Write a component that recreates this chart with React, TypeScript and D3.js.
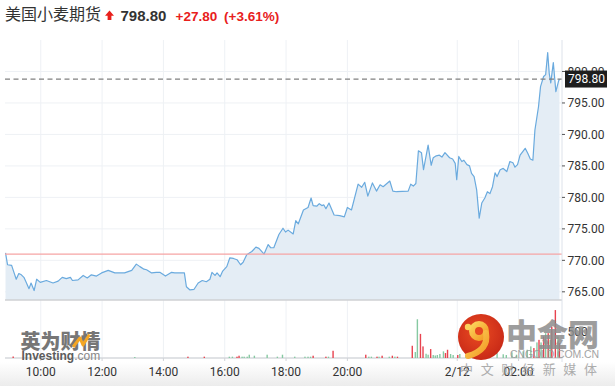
import React from 'react';
import * as d3 from 'd3';

const W = 615;
const H = 386;

// ---------- DATA ----------
const titleText = '美国小麦期货';
const lastPrice = 798.8;
const changeText = '+27.80';
const changePctText = '(+3.61%)';
const prevClose = 771.0;

const pricePoints: [string, number][] = [
  ['08:51', 771.2], ['08:55', 769.3], ['09:03', 769.2], ['09:07', 768.2], ['09:12', 767.0], ['09:17', 767.9],
  ['09:22', 767.7], ['09:27', 767.3], ['09:31', 766.6], ['09:37', 765.5], ['09:41', 766.4], ['09:45', 765.6],
  ['09:47', 765.2], ['09:52', 767.0], ['09:59', 766.5], ['10:11', 766.8], ['10:24', 766.4], ['10:34', 766.7],
  ['10:42', 767.3], ['10:50', 767.1], ['10:58', 767.3], ['11:02', 766.8], ['11:13', 766.9], ['11:23', 767.6],
  ['11:31', 767.2], ['11:39', 767.7], ['11:49', 767.5], ['11:59', 768.0], ['12:12', 768.4], ['12:25', 768.0],
  ['12:44', 768.0], ['12:58', 768.4], ['13:07', 769.4], ['13:14', 769.0], ['13:22', 768.6], ['13:27', 768.5],
  ['13:37', 768.0], ['13:46', 768.1], ['13:53', 768.1], ['14:04', 767.5], ['14:16', 768.1], ['14:22', 768.0],
  ['14:41', 768.0], ['14:45', 765.8], ['14:52', 765.3], ['15:00', 765.4], ['15:08', 766.4], ['15:16', 766.8],
  ['15:24', 766.6], ['15:31', 767.0], ['15:35', 768.1], ['15:41', 767.6], ['15:45', 768.0], ['15:51', 767.4],
  ['15:56', 768.3], ['16:04', 769.0], ['16:10', 770.4], ['16:17', 770.3], ['16:24', 770.1], ['16:31', 769.3],
  ['16:36', 769.7], ['16:43', 770.9], ['16:53', 771.4], ['17:01', 772.1], ['17:07', 771.9], ['17:17', 771.0],
  ['17:25', 772.5], ['17:30', 772.0], ['17:36', 772.0], ['17:46', 774.1], ['17:54', 775.1], ['17:59', 774.5],
  ['18:04', 774.8], ['18:14', 774.2], ['18:19', 776.3], ['18:24', 775.8], ['18:34', 778.0], ['18:43', 778.4],
  ['18:49', 779.9], ['18:53', 778.7], ['19:00', 778.6], ['19:05', 779.0], ['19:10', 778.7], ['19:14', 778.8],
  ['19:18', 778.2], ['19:24', 779.1], ['19:34', 777.2], ['19:45', 777.1], ['19:54', 776.9], ['20:00', 778.4],
  ['20:08', 778.0], ['20:21', 782.1], ['20:28', 781.6], ['20:34', 782.4], ['20:40', 780.2], ['20:49', 782.3],
  ['20:57', 781.0], ['21:04', 782.0], ['21:10', 781.7], ['21:23', 782.6], ['21:29', 781.0], ['21:36', 780.9],
  ['22:24', 781.0], ['22:29', 782.1], ['22:34', 781.8], ['22:39', 782.2], ['22:44', 787.4], ['22:50', 787.1],
  ['22:54', 784.4], ['23:03', 788.3], ['23:09', 785.1], ['23:13', 786.3], ['23:19', 786.6], ['23:25', 786.7],
  ['23:30', 786.4], ['23:36', 787.1], ['23:45', 786.3], ['23:51', 786.1], ['23:56', 785.4], ['23:59', 782.8],
  ['00:03', 786.5], ['00:09', 785.7], ['00:13', 785.9], ['00:19', 785.2], ['00:24', 785.0], ['00:28', 783.8],
  ['00:33', 783.3], ['00:38', 781.2], ['00:43', 776.7], ['00:48', 779.1], ['00:54', 779.9], ['00:59', 780.9],
  ['01:04', 780.6], ['01:09', 781.7], ['01:14', 783.9], ['01:18', 783.3], ['01:24', 784.4], ['01:30', 784.6],
  ['01:37', 784.1], ['01:43', 785.7], ['01:49', 785.5], ['01:53', 784.8], ['01:58', 785.2], ['02:03', 786.7],
  ['02:13', 787.8], ['02:18', 787.0], ['02:23', 786.1], ['02:28', 785.9], ['02:32', 790.7], ['02:39', 794.4],
  ['02:43', 797.6], ['02:49', 799.2], ['02:53', 799.5], ['02:57', 803.0], ['03:00', 799.7], ['03:03', 798.2],
  ['03:08', 801.4], ['03:13', 796.8], ['03:18', 798.4], ['03:20', 798.8],
];

// [time, volume, 'r' | 'g']
const volumePoints: [string, number, string][] = [
  ['09:06', 28, 'r'], ['13:04', 19, 'g'], ['14:48', 25, 'r'], ['15:20', 25, 'r'], ['16:09', 25, 'g'],
  ['16:15', 25, 'g'], ['16:24', 25, 'r'], ['16:28', 43, 'r'], ['16:34', 25, 'g'], ['16:38', 25, 'g'],
  ['16:44', 25, 'g'], ['16:48', 62, 'g'], ['16:58', 43, 'g'], ['17:23', 62, 'g'], ['17:43', 25, 'g'],
  ['17:53', 62, 'g'], ['18:17', 25, 'g'], ['18:37', 25, 'g'], ['18:43', 25, 'g'], ['18:48', 25, 'g'],
  ['18:53', 43, 'r'], ['19:18', 25, 'r'], ['19:23', 25, 'g'], ['19:32', 136, 'r'], ['20:36', 62, 'r'],
  ['20:42', 25, 'g'], ['20:47', 25, 'g'], ['20:58', 25, 'r'], ['21:02', 25, 'g'], ['21:08', 43, 'r'],
  ['21:22', 25, 'g'], ['21:28', 43, 'r'], ['21:33', 25, 'g'], ['21:38', 25, 'r'], ['22:32', 230, 'r'],
  ['22:38', 112, 'g'], ['22:42', 728, 'g'], ['22:48', 453, 'r'], ['22:53', 218, 'r'], ['22:59', 80, 'g'],
  ['23:03', 62, 'g'], ['23:08', 168, 'r'], ['23:13', 56, 'g'], ['23:17', 47, 'g'], ['23:21', 56, 'g'],
  ['23:26', 75, 'g'], ['23:33', 125, 'g'], ['23:37', 93, 'r'], ['23:41', 155, 'r'], ['23:47', 75, 'g'],
  ['23:52', 56, 'g'], ['00:01', 56, 'r'], ['00:05', 75, 'g'], ['00:17', 60, 'g'], ['00:29', 80, 'r'],
  ['00:41', 190, 'r'], ['00:52', 110, 'g'], ['01:04', 70, 'g'], ['01:18', 90, 'g'], ['01:30', 70, 'g'],
  ['01:36', 56, 'g'], ['01:47', 106, 'g'], ['01:56', 62, 'g'], ['02:09', 125, 'g'], ['02:17', 155, 'g'],
  ['02:24', 218, 'g'], ['02:30', 187, 'r'], ['02:36', 293, 'g'], ['02:40', 341, 'r'], ['02:44', 293, 'g'],
  ['02:49', 405, 'r'], ['02:53', 467, 'g'], ['02:58', 467, 'r'], ['03:02', 341, 'g'], ['03:05', 592, 'r'],
  ['03:12', 901, 'r'], ['03:17', 405, 'g'], ['03:20', 280, 'r'],
];

const xTickTimes = ['10:00', '12:00', '14:00', '16:00', '18:00', '20:00', '00:00', '02:00'];
const xTickLabels = ['10:00', '12:00', '14:00', '16:00', '18:00', '20:00', '2/12', '02:00'];
const yTicks = [765, 770, 775, 780, 785, 790, 795, 800];
const volTicks = [500];
const volTickLabels = ['500'];

const domainTimes = ['08:50', '03:25'];
const sessionBreak = ['21:45', '22:10'];
const priceDomain = [763.7, 805.0];
const volDomain = [0, 1090];

// ---------- TIME HELPERS ----------
function hm(s: string) {
  const [h, m] = s.split(':').map(Number);
  return h * 60 + m;
}
function withDays(list: string[]): number[] {
  let day = 0;
  let prev = -Infinity;
  return list.map((s) => {
    let a = hm(s) + day * 1440;
    if (a < prev) {
      day += 1;
      a += 1440;
    }
    prev = a;
    return a;
  });
}
const bs = hm(sessionBreak[0]);
const be = hm(sessionBreak[1]);
function compress(a: number) {
  if (a <= bs) return a;
  if (a < be) return bs;
  return a - (be - bs);
}

// ---------- LAYOUT ----------
const L = 5;
const R = 562;
const PT = 40;
const PB = 300;
const VT = 300;
const VB = 358;

export default function App() {
  const dom = withDays(domainTimes).map(compress);
  const x = d3.scaleLinear().domain(dom).range([L, R]);
  const y = d3.scaleLinear().domain(priceDomain).range([PB, PT]);
  const yv = d3.scaleLinear().domain(volDomain).range([VB, VT]);

  const pT = withDays(pricePoints.map((d) => d[0])).map(compress);
  const pts = pricePoints.map((d, i) => ({ x: x(pT[i]), y: y(d[1]) }));
  const line = d3.line<{ x: number; y: number }>().x((d) => d.x).y((d) => d.y)(pts) || '';
  const area = d3.area<{ x: number; y: number }>().x((d) => d.x).y0(PB).y1((d) => d.y)(pts) || '';

  const vT = withDays(volumePoints.map((d) => d[0])).map(compress);
  const tT = withDays(xTickTimes).map(compress);

  const axisFont = 'Roboto, "Liberation Sans", Arial, sans-serif';
  const cjk = '"Noto Sans CJK SC", "Noto Sans", sans-serif';

  return (
    <svg width={W} height={H} style={{ position: 'absolute', left: 0, top: 0, background: '#fff' }}>
      <defs>
        <linearGradient id="bottomShade" x1="0" y1="0" x2="0" y2="1">
          <stop offset="0" stopColor="#ffffff" />
          <stop offset="1" stopColor="#ececec" />
        </linearGradient>
        <radialGradient id="redBall" cx="0.45" cy="0.4" r="0.6">
          <stop offset="0" stopColor="#ea4b22" />
          <stop offset="1" stopColor="#c92a17" />
        </radialGradient>
        <linearGradient id="swirl" x1="0" y1="0" x2="1" y2="1">
          <stop offset="0" stopColor="#fbd25a" />
          <stop offset="1" stopColor="#f39a25" />
        </linearGradient>
      </defs>

      <rect x={0} y={362} width={W} height={H - 362} fill="url(#bottomShade)" />

      {/* Header */}
      <text x={5} y={20} fontFamily={cjk} fontSize={16} fill="#333">{titleText}</text>
      <path d="M109.5,10.5 L105,15.8 L107.6,15.8 L107.6,20 L111.4,20 L111.4,15.8 L114,15.8 Z" fill="#e8201c" />
      <text x={120.5} y={20.5} fontFamily='"Liberation Sans", Arial, sans-serif' fontSize={15} fontWeight="bold" fill="#333">
        {lastPrice.toFixed(2)}
      </text>
      <text x={175.5} y={20.5} fontFamily='"Liberation Sans", Arial, sans-serif' fontSize={13.5} fontWeight="bold" fill="#e8201c">
        {changeText}
      </text>
      <text x={224} y={20.5} fontFamily='"Liberation Sans", Arial, sans-serif' fontSize={13.5} fontWeight="bold" fill="#e8201c">
        {changePctText}
      </text>

      {/* grid */}
      {yTicks.map((t) => (
        <line key={'hg' + t} x1={L} x2={R} y1={y(t)} y2={y(t)} stroke="#eef1f5" strokeWidth={1} />
      ))}
      {tT.map((t, i) => (
        <line key={'vg' + i} x1={x(t)} x2={x(t)} y1={PT} y2={VB} stroke="#eef1f5" strokeWidth={1} />
      ))}

      {/* area + line */}
      <path d={area} fill="#e4edf5" />
      <path d={line} fill="none" stroke="#6aaade" strokeWidth={1.2} strokeLinejoin="round" />

      {/* prev close line */}
      <line x1={L} x2={R} y1={y(prevClose)} y2={y(prevClose)} stroke="#f6a4a4" strokeWidth={1.2} />
      {/* last price dashed */}
      <line x1={L} x2={R} y1={y(lastPrice)} y2={y(lastPrice)} stroke="#808080" strokeWidth={1.3} strokeDasharray="5,3.5" />

      {/* panel borders */}
      <line x1={L} x2={R} y1={PB} y2={PB} stroke="#cfd0d3" strokeWidth={1.5} />
      <line x1={L} x2={R} y1={VB} y2={VB} stroke="#d6d8dc" strokeWidth={1.5} />
      <line x1={R} x2={R} y1={PT} y2={362} stroke="#dde2ea" strokeWidth={1} />

      {/* volume bars */}
      {volumePoints.map((d, i) => (
        <rect
          key={'v' + i}
          x={x(vT[i]) - 0.7}
          y={yv(d[1])}
          width={1.4}
          height={VB - yv(d[1])}
          fill={d[2] === 'r' ? '#e8434f' : '#86c9a2'}
        />
      ))}

      {/* y axis ticks + labels */}
      {yTicks.map((t) => (
        <g key={'yl' + t}>
          <line x1={R} x2={R + 3} y1={y(t)} y2={y(t)} stroke="#555" strokeWidth={1} />
          <text x={567.5} y={y(t) + 4.3} fontFamily={axisFont} fontSize={12} fill="#333">
            {t.toFixed(2)}
          </text>
        </g>
      ))}
      {volTicks.map((t, i) => (
        <text key={'vl' + t} x={567.5} y={yv(t) + 4.3} fontFamily={axisFont} fontSize={12} fill="#333">
          {volTickLabels[i]}
        </text>
      ))}

      {/* last price box */}
      <rect x={565} y={y(lastPrice) - 8.5} width={42} height={17} fill="#1e1e1e" />
      <text x={568} y={y(lastPrice) + 4.3} fontFamily={axisFont} fontSize={12} fill="#fff">
        {lastPrice.toFixed(2)}
      </text>

      {/* x ticks + labels */}
      {tT.map((t, i) => (
        <g key={'xl' + i}>
          <line x1={x(t)} x2={x(t)} y1={VB} y2={VB + 3} stroke="#d0d3d8" strokeWidth={1} />
          <text x={x(t)} y={376} textAnchor="middle" fontFamily={axisFont} fontSize={12} fill="#333">
            {xTickLabels[i]}
          </text>
        </g>
      ))}

      {/* Investing watermark */}
      <g>
        <text x={20.5} y={349} fontFamily={cjk} fontSize={20} fontWeight={900} fill="#6b6b6b" opacity={0.92}>
          英为财情
        </text>
        <path d="M73,347 L80,338 L83,345 L89.5,334.5" fill="none" stroke="#f5a623" strokeWidth={3} strokeLinejoin="round" />
        <text x={21.5} y={359.5} fontFamily='"Liberation Sans", Arial, sans-serif' fontSize={12} fontWeight="bold" fill="#5c5c5c">
          Investing
          <tspan fontWeight="normal" fill="#888">.com</tspan>
        </text>
      </g>

      {/* CNGOLD watermark */}
      <g>
        <circle cx={481} cy={337} r={23} fill="url(#redBall)" />
        <circle cx={479} cy={331} r={7} fill="none" stroke="url(#swirl)" strokeWidth={6} />
        <path d="M486,333 Q489,350 468,356" fill="none" stroke="url(#swirl)" strokeWidth={6} strokeLinecap="round" />
        <circle cx={468} cy={327} r={3.2} fill="#fbd25a" />
        <text x={506} y={346} fontFamily={cjk} fontSize={31} fontWeight={900} fill="#8c8c8c" opacity={0.85}>
          中金网
        </text>
        <text x={510} y={357.5} fontFamily='"Liberation Sans", Arial, sans-serif' fontSize={10.5} fill="#9a9a9a" textLength={89} lengthAdjust="spacing" opacity={0.9}>
          CNGOLD.COM.CN
        </text>
        <text x={460} y={373.5} fontFamily={cjk} fontSize={13} fill="#a0a0a0" textLength={137} lengthAdjust="spacing" opacity={0.85}>
          中文财经新媒体
        </text>
      </g>
    </svg>
  );
}
